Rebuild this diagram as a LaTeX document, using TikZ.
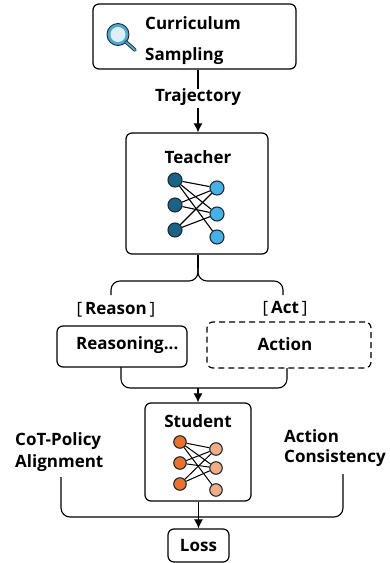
\documentclass[tikz,border=0pt]{standalone}
\usepackage{fontspec}
\usetikzlibrary{arrows.meta}
\setmainfont{Open Sans}
\definecolor{tealDark}{HTML}{1B6386}
\definecolor{skyLight}{HTML}{45B1E6}
\definecolor{orangeDark}{HTML}{E9722E}
\definecolor{orangeLight}{HTML}{F2AC86}
\definecolor{lensRing}{HTML}{4DA9CF}
\definecolor{lensGlass}{HTML}{DCEFF7}
\definecolor{inkDark}{HTML}{1E2A30}

\begin{document}
\begin{tikzpicture}[
		x=1pt, y=-1pt,
		every node/.style={font=\bfseries\fontsize{17}{20}\selectfont, text=black, inner sep=0pt},
		box/.style={draw, rectangle, rounded corners=6pt, line width=1.2pt, minimum width=#1},
		wire/.style={draw, line width=1.1pt, rounded corners=9pt},
		arrow/.style={draw, line width=1.1pt, -{Latex[length=9pt, width=9pt]}},
		neuron/.style={draw=inkDark, circle, line width=1.1pt, minimum size=#1}
	]
  \useasboundingbox (0, 0) rectangle (390, 563);

  \node (curriculum_box) [box=203pt, minimum height=65pt] at (194.5, 36.5) {};
  \node (curriculum) [anchor=west] at (145, 23) {Curriculum};
  \node (sampling) [anchor=west] at (145, 56) {Sampling};
  \node (lens) [circle, draw=inkDark, fill=lensRing, line width=0.9pt, minimum size=22pt] at (118, 34.5) {};
  \node (glass) [circle, fill=lensGlass, minimum size=15pt] at (118, 34.5) {};
  \coordinate (handle_end) at (135, 50);
  \coordinate (handle_start) at (126, 42);
  \draw [draw=inkDark, line width=3.6pt, line cap=round] (handle_start) -- (handle_end);
  \draw [draw=lensRing, line width=1.8pt, line cap=round] (handle_start) -- (handle_end);

  \node (trajectory) at (198, 97.5) {Trajectory};
  \node (teacher_box) [box=142pt, minimum height=121pt] at (197, 193.5) {};
  \node (teacher) at (198, 157) {Teacher};
  \draw [line width=1.1pt] (curriculum_box.south -| trajectory) -- (trajectory.north);
  \coordinate (trajectory_out) at (198, 108);
  \draw [arrow] (trajectory_out) -- (teacher_box.north -| trajectory_out);

  \foreach \name/\x/\y in {a/175/180, b/175/205, c/175/230}
    \node (t_\name) [neuron=14pt, fill=tealDark] at (\x, \y) {};
  \foreach \name/\x/\y in {d/217/188, e/217/214, f/217/237}
    \node (t_\name) [neuron=14pt, fill=skyLight] at (\x, \y) {};
  \foreach \from/\to in {a/d, a/e, a/f, b/d, b/e, c/d, c/e}
    \draw [line width=1.1pt] (t_\from) -- (t_\to);

  \coordinate (split) at (198, 268);
  \coordinate (reason_knee) at (111, 281);
  \coordinate (reason_end) at (111, 295);
  \coordinate (act_knee) at (283, 281);
  \coordinate (act_end) at (283, 295);
  \draw [line width=1.1pt] (teacher_box.south -| split) -- (split);
  \draw [wire] (split) |- (reason_knee) -- (reason_end);
  \draw [wire] (split) |- (act_knee) -- (act_end);

  \node (reason) at (116, 310) {{\mdseries[}\,Reason\,{\mdseries]}};
  \node (act) at (285, 309) {{\mdseries[}\,Act\,{\mdseries]}};
  \node (reasoning_box) [box=130pt, minimum height=41pt] at (122, 346.5) {};
  \node (reasoning) [anchor=west] at (76, 345) {Reasoning...};
  \node (action_box) [box=164pt, minimum height=46pt, dash pattern=on 6pt off 4pt] at (289, 345) {};
  \node (action) at (285, 344) {Action};

  \coordinate (reasoning_out) at (121, 367);
  \coordinate (action_out) at (287, 368);
  \coordinate (merge) at (198, 388);
  \coordinate (merge_left) at (121, 388);
  \coordinate (merge_right) at (287, 388);
  \draw [wire] (reasoning_out) -- (merge_left) -- (merge_right) -- (action_out);

  \node (student_box) [box=106pt, minimum height=98pt] at (198, 452) {};
  \node (student) at (198, 421) {Student};
  \draw [arrow] (merge) -- (student_box.north -| merge);

  \foreach \name/\x/\y in {a/180/442, b/180/463, c/180/484}
    \node (s_\name) [neuron=12.5pt, fill=orangeDark] at (\x, \y) {};
  \foreach \name/\x/\y in {d/216/449, e/216/468, f/216/490}
    \node (s_\name) [neuron=12.5pt, fill=orangeLight] at (\x, \y) {};
  \foreach \from/\to in {a/d, a/e, a/f, b/d, b/e, c/d, c/e}
    \draw [line width=1pt] (s_\from) -- (s_\to);

  \node (cot_policy) [anchor=west] at (15, 441) {CoT-Policy};
  \node (alignment) [anchor=west] at (15, 463) {Alignment};
  \node (action_word) [anchor=west] at (284, 436) {Action};
  \node (consistency) [anchor=west] at (284, 458) {Consistency};

  \node (loss) [box=61pt, minimum height=33pt] at (198.5, 545.5) {Loss};

  \coordinate (align_end) at (61, 477);
  \coordinate (align_knee) at (61, 517);
  \coordinate (consist_end) at (343, 474);
  \coordinate (consist_knee) at (343, 517);
  \draw [wire] (align_end) -- (align_knee) -- (consist_knee) -- (consist_end);
  \draw [arrow] (student_box.south -| loss) -- (loss.north);
\end{tikzpicture}
\end{document}
